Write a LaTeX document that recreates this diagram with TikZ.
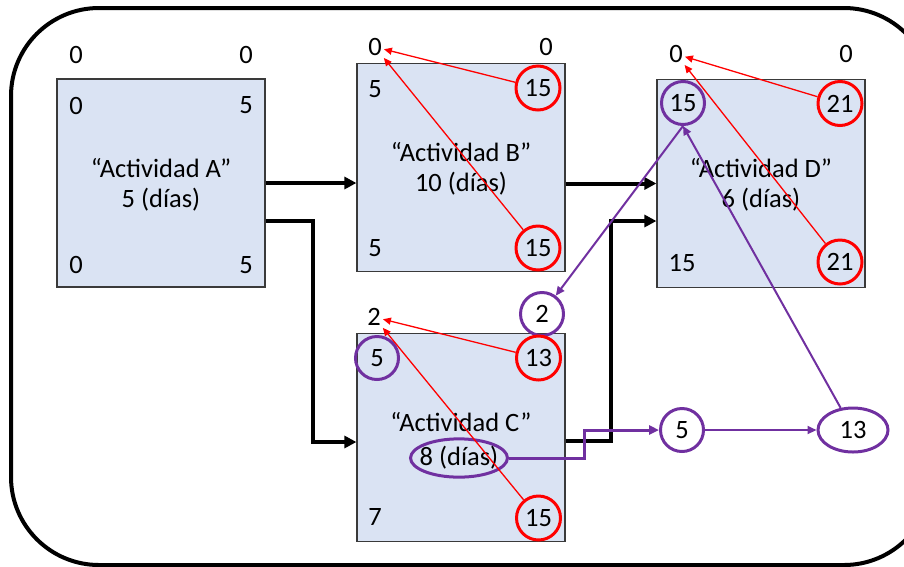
\documentclass[tikz,border=0pt]{standalone}
\usepackage{fontspec}
\setmainfont{Carlito}
\usetikzlibrary{arrows.meta,shapes.geometric}
\definecolor{boxfill}{HTML}{DAE3F3}
\definecolor{boxline}{HTML}{3A3A3A}
\definecolor{slack}{HTML}{7030A0}

\begin{document}
\begin{tikzpicture}[x=1pt,y=-1pt,
  font=\fontsize{26.5}{32}\selectfont,
  actbox/.style={draw=boxline, line width=1.2pt, fill=boxfill,
    minimum width=208pt, minimum height=208pt, inner sep=0pt},
  num/.style={inner sep=2pt},
  title/.style={anchor=base, inner sep=0pt},
  redring/.style={draw=red, line width=3pt, circle, minimum size=44pt, inner sep=0pt},
  purplering/.style={draw=slack, line width=3pt, circle, minimum size=43pt, inner sep=0pt},
  purpleoval/.style={draw=slack, line width=3pt, ellipse, inner sep=0pt},
  flow/.style={line width=4pt, -{Triangle[length=12pt,width=12pt]}},
  back/.style={red, line width=1.3pt, -{Triangle[length=8pt,width=7pt]}},
  slackarrow/.style={slack, line width=2pt, -{Triangle[length=9pt,width=8pt]}},
  slackpath/.style={slack, line width=3pt, -{Triangle[length=10pt,width=9pt]}},
]
\useasboundingbox (0,0) rectangle (904,566);

% outer frame
\begin{scope}
  \clip (0,0) rectangle (904,566);
  \draw[line width=4pt, rounded corners=88pt] (11,8) rectangle (932,565);
\end{scope}

% activity boxes
\node[actbox] (A) at (161,183) {};
\node[actbox] (B) at (461,167.5) {};
\node[actbox] (D) at (761,183.5) {};
\node[actbox] (C) at (461,437.5) {};

% titles and durations
\node[title] (Aname) at (161,177) {“Actividad A”};
\node[title] (Adur)  at (161,207) {5 (días)};
\node[title] (Bname) at (461,161.5) {“Actividad B”};
\node[title] (Bdur)  at (461,191.5) {10 (días)};
\node[title] (Dname) at (761,177.5) {“Actividad D”};
\node[title] (Ddur)  at (761,207.5) {6 (días)};
\node[title] (Cname) at (461,431.5) {“Actividad C”};
\node[purpleoval, inner xsep=-5pt, inner ysep=2pt] (Cdur) at (459,458) {8 (días)};

% activity A numbers
\node[num] (Atl) at (76,54.5) {0};
\node[num] (Atr) at (246,54.5) {0};
\node[num] (Aes) at (76,105.5) {0};
\node[num] (Aef) at (246,105.5) {5};
\node[num] (Als) at (76,265) {0};
\node[num] (Alf) at (246,265) {5};

% activity B numbers
\node[num] (Btl) at (375,47) {0};
\node[num] (Btr) at (546,47) {0};
\node[num] (Bes) at (375,89.5) {5};
\node[redring] (Bef) at (538,88) {15};
\node[num] (Bls) at (375,248) {5};
\node[redring] (Blf) at (538,248) {15};

% activity D numbers
\node[num] (Dtl) at (676,54) {0};
\node[num] (Dtr) at (846,54) {0};
\node[purplering] (Des) at (683,103) {15};
\node[redring] (Def) at (840,103.5) {21};
\node[num] (Dls) at (682,263) {15};
\node[redring] (Dlf) at (840,262) {21};

% activity C numbers
\node[num] (Ctl) at (374,317) {2};
\node[purplering] (Ctr) at (542,314) {2};
\node[purplering] (Ces) at (377,358) {5};
\node[redring] (Cef) at (538.5,358) {13};
\node[num] (Cls) at (375,517) {7};
\node[redring] (Clf) at (538.5,518) {15};

% slack chain
\node[purplering] (S5) at (682,430) {5};
\node[purpleoval, minimum width=70pt, minimum height=44pt] (S13) at (853,430) {13};

% precedence arrows
\coordinate (ac) at (313,221);
\coordinate (cd) at (611,441);
\draw[flow] (A.east) -- (B.west |- A.east);
\draw[flow] (A.east |- ac) -- (ac) |- ([yshift=-4.5pt]C.west);
\draw[flow] (B.east |- D.west) -- (D.west);
\draw[flow] (C.east |- cd) -- (cd) |- ([yshift=-37.5pt]D.west);

% backward pass (red)
\draw[back] (Bef) -- (Btl);
\draw[back] (Blf) -- (Btl);
\draw[back] (Def) -- (Dtl);
\draw[back] (Dlf) -- (Dtl);
\draw[back] (Cef) -- (Ctl);
\draw[back] (Clf) -- (Ctl);

% slack computation (purple)
\coordinate (jog) at (584,458);
\draw[slackpath] (Cdur.east) -- (jog) |- (S5.west);
\draw[slackarrow] (S5) -- (S13);
\draw[slackarrow] (S13) -- (Des.south);
\draw[slackarrow] (Des.south) -- (Ctr);
\end{tikzpicture}
\end{document}
